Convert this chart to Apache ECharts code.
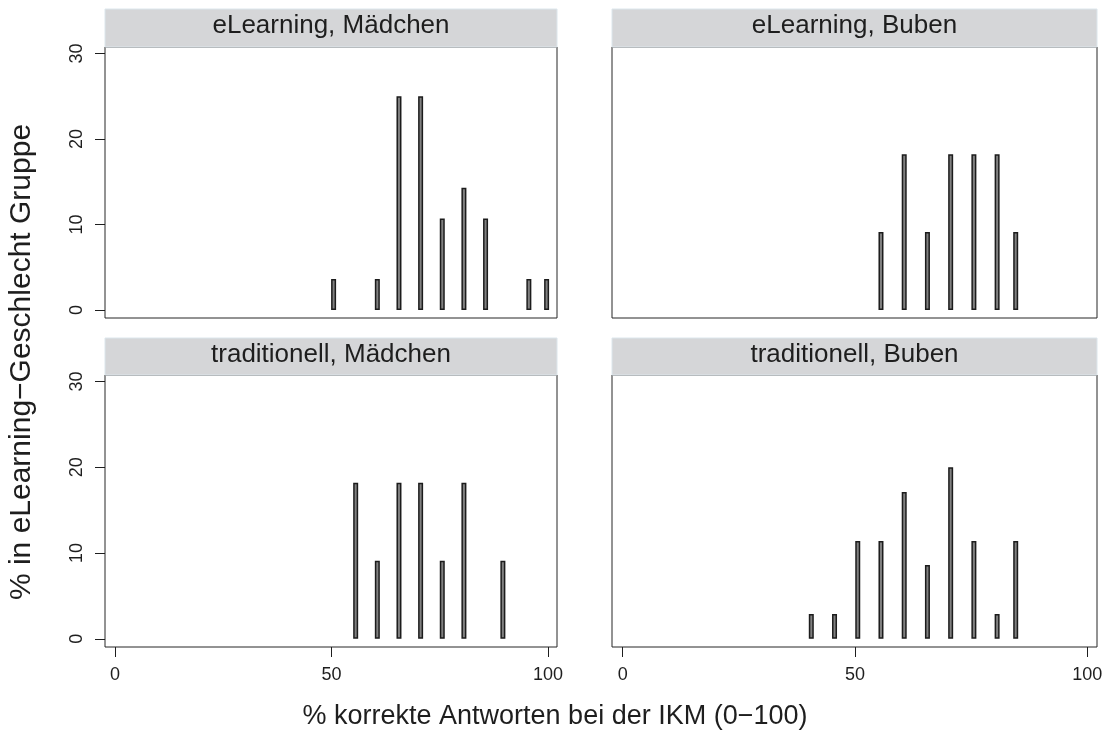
<!DOCTYPE html>
<html>
<head>
<meta charset="utf-8">
<style>
  html, body { margin: 0; padding: 0; background: #fff; }
  #chart { width: 1110px; height: 742px; }
</style>
<script src="https://cdn.jsdelivr.net/npm/echarts@6/dist/echarts.min.js"></script>
</head>
<body>
<div id="chart"></div>
<script>
// panel titles, in reading order
const panelTitles = ['eLearning, Mädchen', 'eLearning, Buben', 'traditionell, Mädchen', 'traditionell, Buben']

// score (% korrekt) and share (%) per panel
const scoreELM = [50.5, 60.6, 65.6, 70.6, 75.6, 80.6, 85.6, 95.6, 99.7]
const shareELM = [3.6, 3.6, 25, 25, 10.7, 14.3, 10.7, 3.6, 3.6]
const scoreELB = [55.6, 60.6, 65.6, 70.6, 75.6, 80.6, 84.6]
const shareELB = [9.1, 18.2, 9.1, 18.2, 18.2, 18.2, 9.1]
const scoreTRM = [55.6, 60.6, 65.6, 70.6, 75.6, 80.6, 89.6]
const shareTRM = [18.2, 9.1, 18.2, 18.2, 9.1, 18.2, 9.1]
const scoreTRB = [40.6, 45.6, 50.6, 55.6, 60.6, 65.6, 70.6, 75.6, 80.6, 84.6]
const shareTRB = [2.9, 2.9, 11.4, 11.4, 17.1, 8.6, 20, 11.4, 2.9, 11.4]

const xTicks = [0, 50, 100]
const yTicks = [0, 10, 20, 30]

const xTitle = '% korrekte Antworten bei der IKM (0\u2212100)'
const yTitle = '% in eLearning\u2212Geschlecht Gruppe'

const panels = [
  { score: scoreELM, share: shareELM },
  { score: scoreELB, share: shareELB },
  { score: scoreTRM, share: shareTRM },
  { score: scoreTRB, share: shareTRB }
]

const FONT = '"Liberation Sans", Arial, sans-serif'
const INK = '#1e1e1e'

// layout of the 2x2 facets
const boxes = [
  { left: 105, top: 47, width: 452, height: 271, headTop: 9 },
  { left: 612, top: 47, width: 485, height: 271, headTop: 9 },
  { left: 105, top: 375, width: 452, height: 272, headTop: 338 },
  { left: 612, top: 375, width: 485, height: 272, headTop: 338 }
]

const chart = echarts.init(document.getElementById('chart'))

const grid = boxes.map(b => ({
  left: b.left, top: b.top, width: b.width, height: b.height,
  show: true, borderColor: '#262626', borderWidth: 1, backgroundColor: '#fff',
  containLabel: false
}))

const xAxis = boxes.map((b, i) => {
  const bottomRow = i >= 2
  return {
    type: 'value', gridIndex: i, min: -2.3, max: 102.1,
    splitLine: { show: false },
    axisLine: { show: false, onZero: false },
    axisTick: { show: bottomRow, length: 10, customValues: xTicks, lineStyle: { color: INK, width: 1 } },
    axisLabel: { show: bottomRow, customValues: xTicks, margin: 19, fontSize: 18, color: INK, fontFamily: FONT }
  }
})

const yAxis = boxes.map((b, i) => {
  const leftCol = i % 2 === 0
  return {
    type: 'value', gridIndex: i, min: -0.95, max: 30.75,
    splitLine: { show: false },
    axisLine: { show: false, onZero: false },
    axisTick: { show: leftCol, length: 10, customValues: yTicks, lineStyle: { color: INK, width: 1 } },
    axisLabel: { show: leftCol, customValues: yTicks, rotate: 90, margin: 19, fontSize: 18, color: INK, fontFamily: FONT }
  }
})

const series = panels.map((p, i) => ({
  type: 'bar',
  xAxisIndex: i, yAxisIndex: i,
  barWidth: 5,
  data: p.score.map((s, k) => [s, p.share[k]]),
  itemStyle: { color: '#808080', borderColor: '#1c1c1c', borderWidth: 1.5 },
  silent: true,
  animation: false
}))

const headers = boxes.map((b, i) => ({
  type: 'group',
  children: [
    {
      type: 'rect',
      shape: { x: b.left, y: b.headTop, width: b.width, height: b.top - b.headTop },
      style: { fill: '#d5d6d8', stroke: '#dce6ec', lineWidth: 1 }
    },
    {
      type: 'text',
      x: b.left + b.width / 2, y: b.headTop + (b.top - b.headTop) / 2 - 2,
      style: { text: panelTitles[i], fill: INK, font: '26px ' + FONT, textAlign: 'center', textVerticalAlign: 'middle' }
    }
  ]
}))

chart.setOption({
  animation: false,
  grid, xAxis, yAxis, series,
  graphic: [
    ...headers,
    {
      type: 'text', x: 555, y: 717,
      style: { text: xTitle, fill: INK, font: '27px ' + FONT, textAlign: 'center', textVerticalAlign: 'middle' }
    },
    {
      type: 'text', x: 22, y: 362, rotation: Math.PI / 2,
      style: { text: yTitle, fill: INK, font: '30px ' + FONT, textAlign: 'center', textVerticalAlign: 'middle' }
    }
  ]
})
</script>
</body>
</html>
